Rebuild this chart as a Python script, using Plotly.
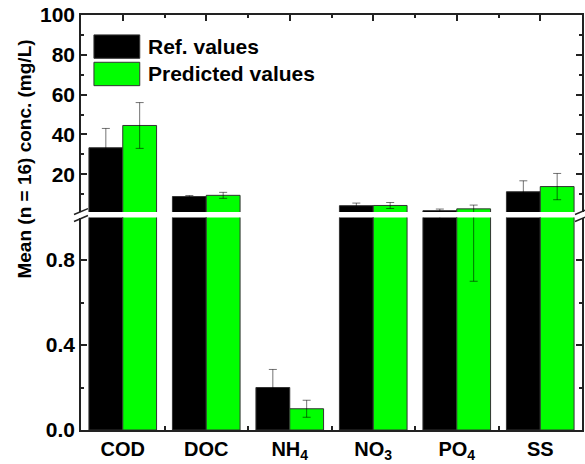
import plotly.graph_objects as go

categories = ['COD', 'DOC', 'NH<sub>4</sub>', 'NO<sub>3</sub>', 'PO<sub>4</sub>', 'SS']
ref_vals = [33.3, 8.8, 0.20, 4.2, 1.7, 11.2]
ref_err = [9.7, 0.5, 0.085, 1.3, 0.8, 5.5]
pred_vals = [44.5, 9.4, 0.10, 4.3, 2.6, 13.8]
pred_err = [11.5, 1.5, 0.04, 1.5, 1.9, 6.6]
series_names = ['Ref. values', 'Predicted values']
low_ticks = [0, 0.4, 0.8]
low_minor = [0.2, 0.6]
high_ticks = [20, 40, 60, 80, 100]
high_minor = [10, 30, 50, 70, 90]

W, H = 585, 464
ML, MR, MT, MB = 81, 1, 15, 32
PW = W - ML - MR
PH = H - MT - MB

def px(x):
    return (x - ML) / PW

def py(y):
    return (H - MB - y) / PH

xs = list(range(len(categories)))
FONT = 'Liberation Sans, Arial, sans-serif'
GREEN = '#00ff00'
ERRC = 'rgba(0,0,0,0.55)'
OUT = '#333333'

fig = go.Figure()
for xa, ya in (('x', 'y'), ('x2', 'y2')):
    fig.add_trace(go.Bar(
        x=xs, y=ref_vals, name=series_names[0], xaxis=xa, yaxis=ya,
        marker=dict(color='#000000', line=dict(color=OUT, width=1)),
        error_y=dict(type='data', array=ref_err, color=ERRC, thickness=1, width=4),
        showlegend=False))
    fig.add_trace(go.Bar(
        x=xs, y=pred_vals, name=series_names[1], xaxis=xa, yaxis=ya,
        marker=dict(color=GREEN, line=dict(color=OUT, width=1)),
        error_y=dict(type='data', array=pred_err, color=ERRC, thickness=1, width=4),
        showlegend=False))

low_top = py(218.5)
high_bot = py(213)

axis_common = dict(showline=True, linecolor='#222222', linewidth=1.5, showgrid=False,
                   zeroline=False, tickcolor='#222222', tickwidth=1.5)

fig.update_layout(
    width=W, height=H,
    margin=dict(l=ML, r=MR, t=MT, b=MB, pad=0),
    paper_bgcolor='white', plot_bgcolor='white',
    barmode='group', bargap=0.19, bargroupgap=0,
    font=dict(family=FONT, color='#000000'),
    xaxis=dict(domain=[0, 1], anchor='y', range=[-0.5, 5.5], tickmode='array',
               tickvals=xs, ticktext=[f'<b>{c}</b>' for c in categories],
               ticks='', tickfont=dict(size=20, family=FONT),
               minor=dict(tickmode='array', tickvals=[0.5, 1.5, 2.5, 3.5, 4.5],
                          ticks='inside', ticklen=4, tickcolor='#222222', tickwidth=1.5),
               **axis_common),
    xaxis2=dict(domain=[0, 1], anchor='y2', matches='x', range=[-0.5, 5.5], side='top',
                tickmode='array', tickvals=xs, showticklabels=False,
                ticks='inside', ticklen=6,
                minor=dict(tickmode='array', tickvals=[0.5, 1.5, 2.5, 3.5, 4.5],
                           ticks='inside', ticklen=3, tickcolor='#222222', tickwidth=1.5),
                **axis_common),
    yaxis=dict(domain=[0, low_top], anchor='x', range=[0, 1], tickmode='array',
               tickvals=low_ticks, ticktext=[f'<b>{v:.1f}</b>' for v in low_ticks],
               ticks='inside', ticklen=6, mirror='ticks',
               tickfont=dict(size=21, family=FONT),
               minor=dict(tickmode='array', tickvals=low_minor, ticks='inside',
                          ticklen=3, tickcolor='#222222', tickwidth=1.5),
               **axis_common),
    yaxis2=dict(domain=[high_bot, 1], anchor='x2', range=[1, 100], tickmode='array',
                tickvals=high_ticks, ticktext=[f'<b>{v}</b>' for v in high_ticks],
                ticks='inside', ticklen=6, mirror='ticks',
                tickfont=dict(size=21, family=FONT),
                minor=dict(tickmode='array', tickvals=high_minor, ticks='inside',
                           ticklen=3, tickcolor='#222222', tickwidth=1.5),
                **axis_common),
)

shapes = []
# axis break marks
for cx in (ML, W - MR):
    for cy in (212.5, 219.5):
        shapes.append(dict(type='line', xref='paper', yref='paper',
                           x0=px(cx - 7), y0=py(cy + 3), x1=px(cx + 7), y1=py(cy - 3),
                           line=dict(color='#222222', width=1.5)))
# legend boxes
for i, col in enumerate(['#000000', GREEN]):
    top = 35 + i * 27.5
    shapes.append(dict(type='rect', xref='paper', yref='paper',
                       x0=px(94), x1=px(140), y0=py(top + 23.5), y1=py(top),
                       fillcolor=col, line=dict(color=OUT, width=1)))
fig.update_layout(shapes=shapes)

annotations = []
for i, name in enumerate(series_names):
    annotations.append(dict(text=f'<b>{name}</b>', xref='paper', yref='paper',
                            x=px(146), y=py(46.5 + i * 27.5), xanchor='left', yanchor='middle',
                            showarrow=False, font=dict(size=21, family=FONT, color='#000000')))
annotations.append(dict(text='<b>Mean (n = 16) conc. (mg/L)</b>', xref='paper', yref='paper',
                        x=px(24), y=py(160), xanchor='center', yanchor='middle',
                        textangle=-90, showarrow=False,
                        font=dict(size=19, family=FONT, color='#000000')))
fig.update_layout(annotations=annotations)

fig.write_html('out.html')
